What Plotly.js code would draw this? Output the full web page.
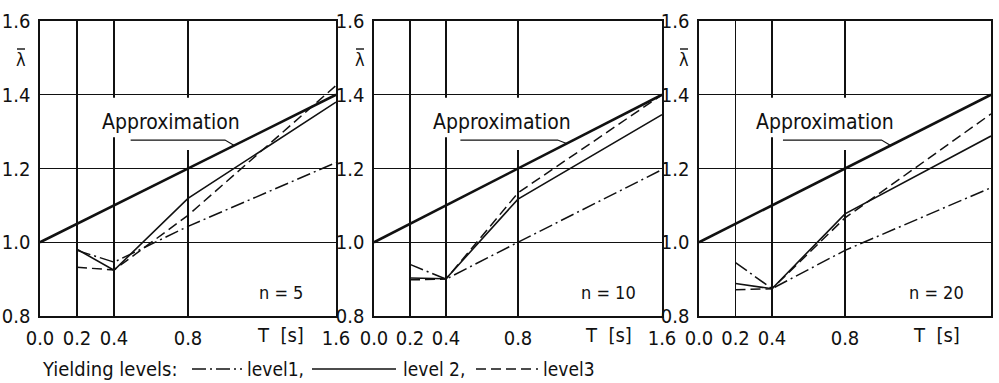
<!DOCTYPE html>
<html>
<head>
<meta charset="utf-8">
<script src="https://cdn.plot.ly/plotly-3.0.1.min.js"></script>
<style>html,body{margin:0;padding:0;background:#fff;}#chart{width:999px;height:383px;}</style>
</head>
<body>
<div id="chart"></div>
<script>
// ---- data ----
const periodT = [0.2, 0.4, 0.8, 1.6];
const approxT = [0.0, 1.6];
const approxLambda = [1.0, 1.4];

const n5Level1 = [0.978, 0.946, 1.043, 1.216];
const n5Level2 = [0.981, 0.924, 1.119, 1.380];
const n5Level3 = [0.932, 0.925, 1.073, 1.425];

const n10Level1 = [0.940, 0.900, 1.000, 1.197];
const n10Level2 = [0.903, 0.901, 1.117, 1.346];
const n10Level3 = [0.898, 0.900, 1.134, 1.400];

const n20Level1 = [0.945, 0.874, 0.978, 1.148];
const n20Level2 = [0.888, 0.874, 1.077, 1.288];
const n20Level3 = [0.871, 0.874, 1.066, 1.348];

const panelLabels = ["n = 5", "n = 10", "n = 20"];
const xTickVals = [0.0, 0.2, 0.4, 0.8, 1.6];
const xTickText = ["0.0", "0.2", "0.4", "0.8", "1.6"];
const yTickVals = [0.8, 1.0, 1.2, 1.4, 1.6];
const yTickText = ["0.8", "1.0", "1.2", "1.4", "1.6"];
const legendTitle = "Yielding levels:";
const levelNames = ["level1,", "level 2,", "level3"];

// ---- styling ----
const FONT = "DejaVu Sans Condensed, Liberation Sans, sans-serif";
const INK = "#111";
const DASHDOT = "14px,4px,2px,4px";
const DASHED = "10px,5px";

const panels = [
  {l1: n5Level1, l2: n5Level2, l3: n5Level3},
  {l1: n10Level1, l2: n10Level2, l3: n10Level3},
  {l1: n20Level1, l2: n20Level2, l3: n20Level3}
];
const suffix = ["", "2", "3"];

const traces = [];
panels.forEach((p, i) => {
  const xa = "x" + suffix[i], ya = "y" + suffix[i];
  traces.push({x: approxT, y: approxLambda, xaxis: xa, yaxis: ya, mode: "lines",
    line: {color: INK, width: 2.6}, showlegend: false, hoverinfo: "skip"});
  traces.push({x: periodT, y: p.l1, xaxis: xa, yaxis: ya, mode: "lines",
    line: {color: INK, width: 1.5, dash: DASHDOT}, showlegend: false});
  traces.push({x: periodT, y: p.l2, xaxis: xa, yaxis: ya, mode: "lines",
    line: {color: INK, width: 1.6}, showlegend: false});
  traces.push({x: periodT, y: p.l3, xaxis: xa, yaxis: ya, mode: "lines",
    line: {color: INK, width: 1.5, dash: DASHED}, showlegend: false});
});

const W = 999, H = 383;
const xDomains = [[40 / W, 336 / W], [374 / W, 662 / W], [699 / W, 991 / W]];
const yDomain = [(H - 316) / H, (H - 21) / H];

function xAxis(dom, anchor) {
  return {domain: dom, anchor: anchor, range: [0, 1.6], tickmode: "array",
    tickvals: xTickVals, ticktext: xTickText, showgrid: true, gridcolor: INK, gridwidth: 1.4,
    showline: true, mirror: true, linecolor: INK, linewidth: 1.6, zeroline: false,
    ticks: "", ticklabelstandoff: 3, tickfont: {family: FONT, size: 20, color: INK}, fixedrange: true};
}
function yAxis(anchor) {
  return {domain: yDomain, anchor: anchor, range: [0.8, 1.6], tickmode: "array",
    tickvals: yTickVals, ticktext: yTickText, showgrid: true, gridcolor: INK, gridwidth: 1.3,
    showline: true, mirror: true, linecolor: INK, linewidth: 1.6, zeroline: false,
    ticks: "", ticklabelstandoff: 4, tickfont: {family: FONT, size: 20, color: INK}, fixedrange: true};
}

const annotations = [];
const shapes = [];
const approxTextX = [0.71, 0.71, 0.69];
const leaderStart = [0.49, 0.48, 0.46];
const leaderEnd = [1.0, 1.02, 1.0];
const lambdaX = [21, 360, 684];
panels.forEach((p, i) => {
  const xa = "x" + suffix[i], ya = "y" + suffix[i];
  // white mask behind the label
  shapes.push({type: "path", xref: xa, yref: ya, layer: "above",
    path: "M0.30,1.392 L1.12,1.392 L1.12,1.29 L0.95,1.29 L0.95,1.25 L0.6,1.25 L0.6,1.285 L0.30,1.285 Z",
    fillcolor: "#fff", line: {width: 0}});
  const ls = leaderStart[i], le = leaderEnd[i];
  const endX = le + 0.05, endY = 1.0 + 0.25 * endX;
  shapes.push({type: "path", xref: xa, yref: ya, layer: "above",
    path: `M${ls},1.277 L${le},1.277 L${endX},${endY}`, line: {color: INK, width: 1.1}});
  annotations.push({x: approxTextX[i], y: 1.325, xref: xa, yref: ya, text: "Approximation",
    showarrow: false, font: {family: FONT, size: 21, color: INK}, xanchor: "center", yanchor: "middle"});
  annotations.push({x: 1.3, y: 0.865, xref: xa, yref: ya, text: panelLabels[i],
    showarrow: false, font: {family: FONT, size: 18, color: INK}, xanchor: "center", yanchor: "middle"});
  annotations.push({x: 1.3, y: (H - 335) / H, xref: xa, yref: "paper", text: "T  [s]",
    showarrow: false, font: {family: FONT, size: 20, color: INK}, xanchor: "center", yanchor: "middle"});
  // lambda with overbar
  annotations.push({x: lambdaX[i] / W, y: (H - 59) / H, xref: "paper", yref: "paper", text: "\u03bb",
    showarrow: false, font: {family: FONT, size: 18, color: INK}, xanchor: "center", yanchor: "middle"});
  shapes.push({type: "line", xref: "paper", yref: "paper", x0: (lambdaX[i] - 4) / W, x1: (lambdaX[i] + 4) / W,
    y0: (H - 49) / H, y1: (H - 49) / H, line: {color: INK, width: 1.4}});
});

// manual legend row
const legY = (H - 369) / H;
annotations.push({x: 40 / W, y: legY, xref: "paper", yref: "paper", text: legendTitle, showarrow: false,
  xanchor: "left", yanchor: "middle", font: {family: FONT, size: 20, color: INK}});
const sampleX = [[192, 242], [312, 396], [476, 538]];
const sampleDash = [DASHDOT, "solid", DASHED];
const labelX = [245, 401, 541];
for (let k = 0; k < 3; k++) {
  shapes.push({type: "line", xref: "paper", yref: "paper", x0: sampleX[k][0] / W, x1: sampleX[k][1] / W,
    y0: legY, y1: legY, line: {color: INK, width: 1.5, dash: sampleDash[k]}});
  annotations.push({x: labelX[k] / W, y: legY, xref: "paper", yref: "paper", text: levelNames[k],
    showarrow: false, xanchor: "left", yanchor: "middle", font: {family: FONT, size: 19, color: INK}});
}

const layout = {
  width: W, height: H, margin: {l: 0, r: 0, t: 0, b: 0},
  paper_bgcolor: "#fff", plot_bgcolor: "#fff", showlegend: false,
  font: {family: FONT, color: INK},
  xaxis: xAxis(xDomains[0], "y"), yaxis: yAxis("x"),
  xaxis2: xAxis(xDomains[1], "y2"), yaxis2: yAxis("x2"),
  xaxis3: xAxis(xDomains[2], "y3"), yaxis3: yAxis("x3"),
  annotations: annotations, shapes: shapes
};

Plotly.newPlot("chart", traces, layout, {displayModeBar: false, staticPlot: true});
</script>
</body>
</html>
